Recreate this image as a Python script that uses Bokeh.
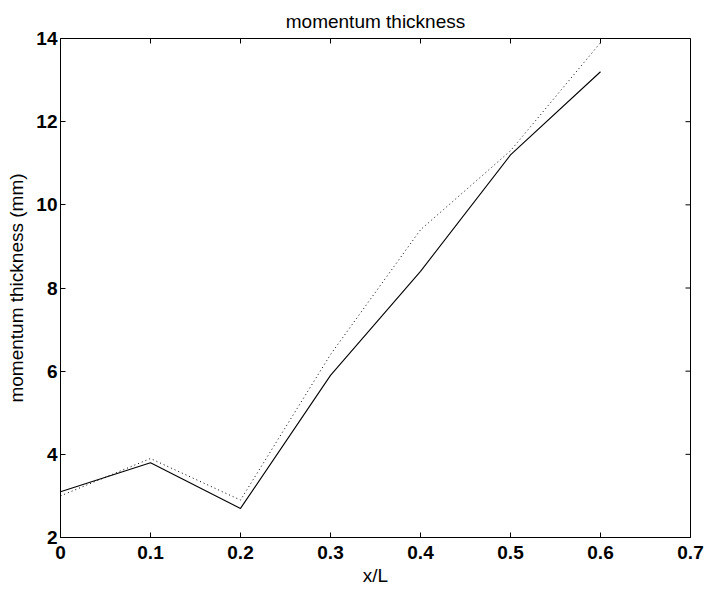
import math
from bokeh.plotting import figure
from bokeh.models import Range1d, FixedTicker
from bokeh.embed import file_html
from bokeh.resources import INLINE

# Data
x_pos = [0.0, 0.1, 0.2, 0.3, 0.4, 0.5, 0.6]
theta_solid = [3.1, 3.8, 2.7, 5.9, 8.4, 11.2, 13.2]
theta_dotted = [3.0, 3.9, 2.9, 6.4, 9.4, 11.3, 13.9]

x_ticks = [0, 0.1, 0.2, 0.3, 0.4, 0.5, 0.6, 0.7]
y_ticks = [2, 4, 6, 8, 10, 12, 14]
x_lim = (0, 0.7)
y_lim = (2, 14)

FONT = "Liberation Sans"

p = figure(width=709, height=592, output_backend="svg", toolbar_location=None,
           x_range=Range1d(*x_lim), y_range=Range1d(*y_lim),
           min_border_left=60, min_border_right=19, min_border_top=38,
           min_border_bottom=55, title="momentum thickness")
p.background_fill_color = "white"
p.border_fill_color = "white"
p.grid.visible = False
p.outline_line_color = "black"
p.outline_line_width = 1

p.title.align = "center"
p.title.text_font = FONT
p.title.text_font_size = "19px"
p.title.text_font_style = "normal"
p.title.text_color = "black"
p.title.standoff = 13

p.line(x_pos, theta_solid, line_color="black", line_width=1.1)
p.line(x_pos, theta_dotted, line_color="black", line_width=1, line_dash="1 3")

# inward ticks on the top and right edges of the box (MATLAB "box on")
p.ray(x=x_ticks, y=[y_lim[1]] * len(x_ticks), length=5, length_units="screen",
      angle=-math.pi / 2, line_color="black", line_width=1)
p.ray(x=[x_lim[1]] * len(y_ticks), y=y_ticks, length=5, length_units="screen",
      angle=math.pi, line_color="black", line_width=1)

for ax in (p.xaxis[0], p.yaxis[0]):
    ax.major_tick_in = 5
    ax.major_tick_out = 0
    ax.minor_tick_in = 0
    ax.minor_tick_out = 0
    ax.axis_line_color = "black"
    ax.major_tick_line_color = "black"
    ax.major_label_text_font = FONT
    ax.major_label_text_font_size = "19px"
    ax.major_label_text_font_style = "bold"
    ax.major_label_text_color = "black"
    ax.axis_label_text_font = FONT
    ax.axis_label_text_font_size = "19px"
    ax.axis_label_text_font_style = "normal"
    ax.axis_label_text_color = "black"

p.xaxis[0].ticker = FixedTicker(ticks=x_ticks)
p.yaxis[0].ticker = FixedTicker(ticks=y_ticks)
p.xaxis[0].major_label_overrides = {0: "0", 0.1: "0.1", 0.2: "0.2", 0.3: "0.3",
                                    0.4: "0.4", 0.5: "0.5", 0.6: "0.6", 0.7: "0.7"}
p.xaxis[0].axis_label = "x/L"
p.yaxis[0].axis_label = "momentum thickness (mm)"
p.xaxis[0].major_label_standoff = 8
p.yaxis[0].major_label_standoff = 3
p.xaxis[0].axis_label_standoff = 3
p.yaxis[0].axis_label_standoff = 6

open("out.html", "w").write(file_html(p, INLINE))
